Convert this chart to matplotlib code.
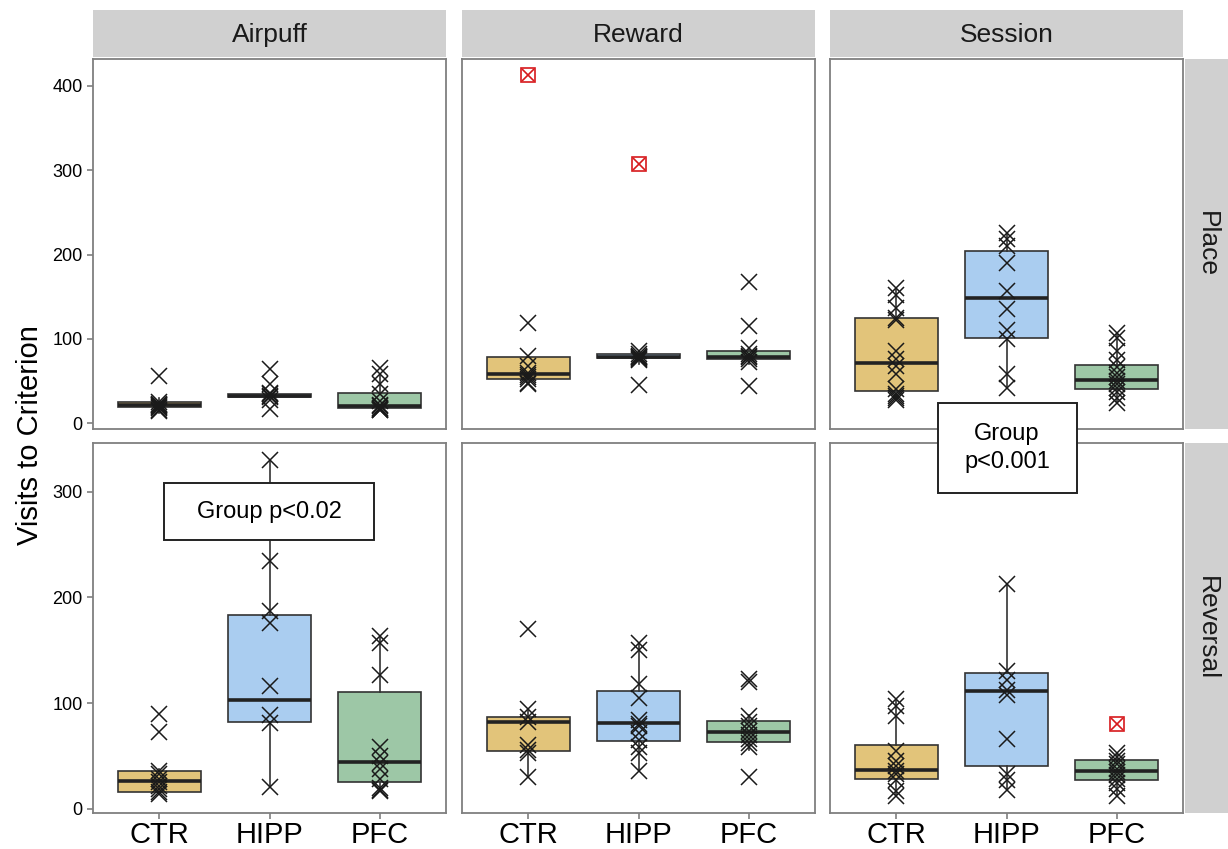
import matplotlib.pyplot as plt
from matplotlib.patches import Rectangle

plt.rcParams['font.family'] = ['Liberation Sans', 'DejaVu Sans']

groups = ['CTR', 'HIPP', 'PFC']
tasks = ['Airpuff', 'Reward', 'Session']
phases = ['Place', 'Reversal']
colors = ['#E2C47A', '#AACDF0', '#9DC7A6']

# box stats per group: [q1, median, q3, whisker low, whisker high]
airpuff_place_box = [[19, 21, 25, 12, 30], [31, 32, 34, 28, 36], [18, 20, 36, 15, 58]]
reward_place_box = [[52, 58, 79, 46, 80], [77, 79, 82, 70, 85], [76, 78, 85, 70, 89]]
session_place_box = [[38, 71, 125, 28, 160], [101, 149, 204, 42, 225], [40, 51, 69, 24, 107]]
airpuff_rev_box = [[16, 26, 36, 14, 38], [82, 103, 183, 21, 330], [25, 44, 110, 17, 163]]
reward_rev_box = [[55, 82, 87, 30, 94], [64, 81, 111, 36, 157], [63, 73, 83, 56, 89]]
session_rev_box = [[28, 37, 60, 12, 104], [40, 111, 128, 18, 213], [27, 36, 46, 12, 53]]

# individual animals
airpuff_place_pts = [[56, 25, 23, 22, 21, 20, 19, 18, 16, 14],
                     [64, 46, 36, 34, 32, 31, 28, 17],
                     [65, 58, 46, 34, 26, 22, 20, 18, 17, 16, 15]]
reward_place_pts = [[119, 80, 68, 60, 57, 55, 52, 48, 46],
                    [85, 82, 80, 79, 78, 77, 76, 75, 45],
                    [167, 115, 89, 82, 80, 78, 76, 72, 44]]
session_place_pts = [[160, 152, 137, 125, 122, 85, 76, 68, 58, 40, 35, 32, 30, 28],
                     [225, 218, 210, 190, 157, 135, 110, 100, 58, 42],
                     [107, 101, 86, 75, 66, 60, 55, 50, 46, 42, 37, 30, 24]]
airpuff_rev_pts = [[90, 73, 36, 33, 28, 25, 22, 19, 16, 14],
                   [330, 234, 187, 176, 116, 89, 81, 21],
                   [163, 157, 127, 58, 50, 43, 38, 28, 20, 18, 17]]
reward_rev_pts = [[170, 94, 87, 82, 60, 56, 53, 30],
                  [157, 150, 118, 105, 84, 80, 78, 72, 65, 58, 53, 36],
                  [123, 120, 88, 82, 78, 74, 70, 66, 62, 58, 30]]
session_rev_pts = [[104, 97, 88, 55, 45, 40, 36, 33, 27, 17, 12],
                   [213, 130, 122, 112, 108, 66, 33, 27, 18],
                   [53, 49, 45, 42, 38, 35, 32, 28, 24, 19, 12]]

# flagged outliers (red)
reward_place_out = [[413], [308], []]
session_rev_out = [[], [], [80]]

boxes = {('Airpuff', 'Place'): airpuff_place_box, ('Reward', 'Place'): reward_place_box,
         ('Session', 'Place'): session_place_box, ('Airpuff', 'Reversal'): airpuff_rev_box,
         ('Reward', 'Reversal'): reward_rev_box, ('Session', 'Reversal'): session_rev_box}
points = {('Airpuff', 'Place'): airpuff_place_pts, ('Reward', 'Place'): reward_place_pts,
          ('Session', 'Place'): session_place_pts, ('Airpuff', 'Reversal'): airpuff_rev_pts,
          ('Reward', 'Reversal'): reward_rev_pts, ('Session', 'Reversal'): session_rev_pts}
outliers = {('Reward', 'Place'): reward_place_out, ('Session', 'Reversal'): session_rev_out}

W, H = 1228, 849
fig = plt.figure(figsize=(W / 100, H / 100), dpi=100)

col_left = [93, 462, 830]
col_w = 353
row_top = [59, 443]
row_h = 370
ylims = [(-7, 432), (-4, 346)]
yticks = [[0, 100, 200, 300, 400], [0, 100, 200, 300]]
grey = '#7f7f7f'
strip_c = '#d0d0d0'

axes = {}
for r, ph in enumerate(phases):
    for c, tk in enumerate(tasks):
        ax = fig.add_axes([col_left[c] / W, 1 - (row_top[r] + row_h) / H, col_w / W, row_h / H])
        axes[(tk, ph)] = ax
        stats = []
        for q1, med, q3, lo, hi in boxes[(tk, ph)]:
            stats.append(dict(med=med, q1=q1, q3=q3, whislo=lo, whishi=hi, fliers=[]))
        bp = ax.bxp(stats, positions=[1, 2, 3], widths=0.75, patch_artist=True,
                    showcaps=False, showfliers=False,
                    boxprops=dict(edgecolor='#333333', linewidth=1.2),
                    whiskerprops=dict(color='#333333', linewidth=1.2),
                    medianprops=dict(color='#222222', linewidth=2.6))
        for patch, col in zip(bp['boxes'], colors):
            patch.set_facecolor(col)
        for i, p in enumerate(points[(tk, ph)]):
            ax.plot([i + 1] * len(p), p, ls='none', marker='x', ms=11, mew=1.1,
                    color='#1a1a1a', zorder=4)
        if (tk, ph) in outliers:
            for i, o in enumerate(outliers[(tk, ph)]):
                if o:
                    ax.plot([i + 1] * len(o), o, ls='none', marker='s', ms=10, mfc='white',
                            mec='#d7191c', mew=1.2, zorder=5)
                    ax.plot([i + 1] * len(o), o, ls='none', marker='x', ms=8, mew=1.2,
                            color='#d7191c', zorder=6)
        ax.set_xlim(0.4, 3.6)
        ax.set_ylim(*ylims[r])
        ax.set_yticks(yticks[r])
        ax.set_xticks([1, 2, 3])
        for s in ax.spines.values():
            s.set_color(grey)
            s.set_linewidth(1.3)
        ax.tick_params(colors=grey, length=4, width=1.2, labelcolor='black')
        if c == 0:
            ax.set_yticklabels([str(v) for v in yticks[r]], fontsize=13)
        else:
            ax.tick_params(axis='y', left=False, labelleft=False)
        if r == 1:
            ax.set_xticklabels(groups, fontsize=21)
            ax.tick_params(axis='x', pad=2)
        else:
            ax.tick_params(axis='x', bottom=False, labelbottom=False)

# facet strips
for c, tk in enumerate(tasks):
    sax = fig.add_axes([col_left[c] / W, 1 - 57 / H, col_w / W, 47 / H])
    sax.set_facecolor(strip_c)
    sax.set_xticks([])
    sax.set_yticks([])
    for s in sax.spines.values():
        s.set_visible(False)
    sax.text(0.5, 0.47, tk, ha='center', va='center', fontsize=19, color='#1a1a1a',
             transform=sax.transAxes)
for r, ph in enumerate(phases):
    sax = fig.add_axes([1185 / W, 1 - (row_top[r] + row_h) / H, 43 / W, row_h / H])
    sax.set_facecolor(strip_c)
    sax.set_xticks([])
    sax.set_yticks([])
    for s in sax.spines.values():
        s.set_visible(False)
    sax.text(0.5, 0.5, ph, ha='center', va='center', fontsize=19, color='#1a1a1a',
             rotation=-90, transform=sax.transAxes)

# y label
fig.text(30 / W, 1 - 435 / H, 'Visits to Criterion', rotation=90, ha='center', va='center',
         fontsize=21)

# annotation boxes
ax = axes[('Airpuff', 'Reversal')]
ax.add_patch(Rectangle((1.045, 254), 1.905, 54, facecolor='white', edgecolor='#222222',
                       linewidth=1.4, zorder=7))
ax.text(2, 281, 'Group p<0.02', ha='center', va='center', fontsize=17, zorder=8)

fig.add_artist(Rectangle((938 / W, 1 - 493 / H), 139 / W, 90 / H, transform=fig.transFigure,
                         facecolor='white', edgecolor='#222222', linewidth=1.4, zorder=10))
fig.text(1007 / W, 1 - 448 / H, 'Group\np<0.001', ha='center', va='center', fontsize=17,
         linespacing=1.35, zorder=11)

fig.savefig('out.png', dpi=100)
